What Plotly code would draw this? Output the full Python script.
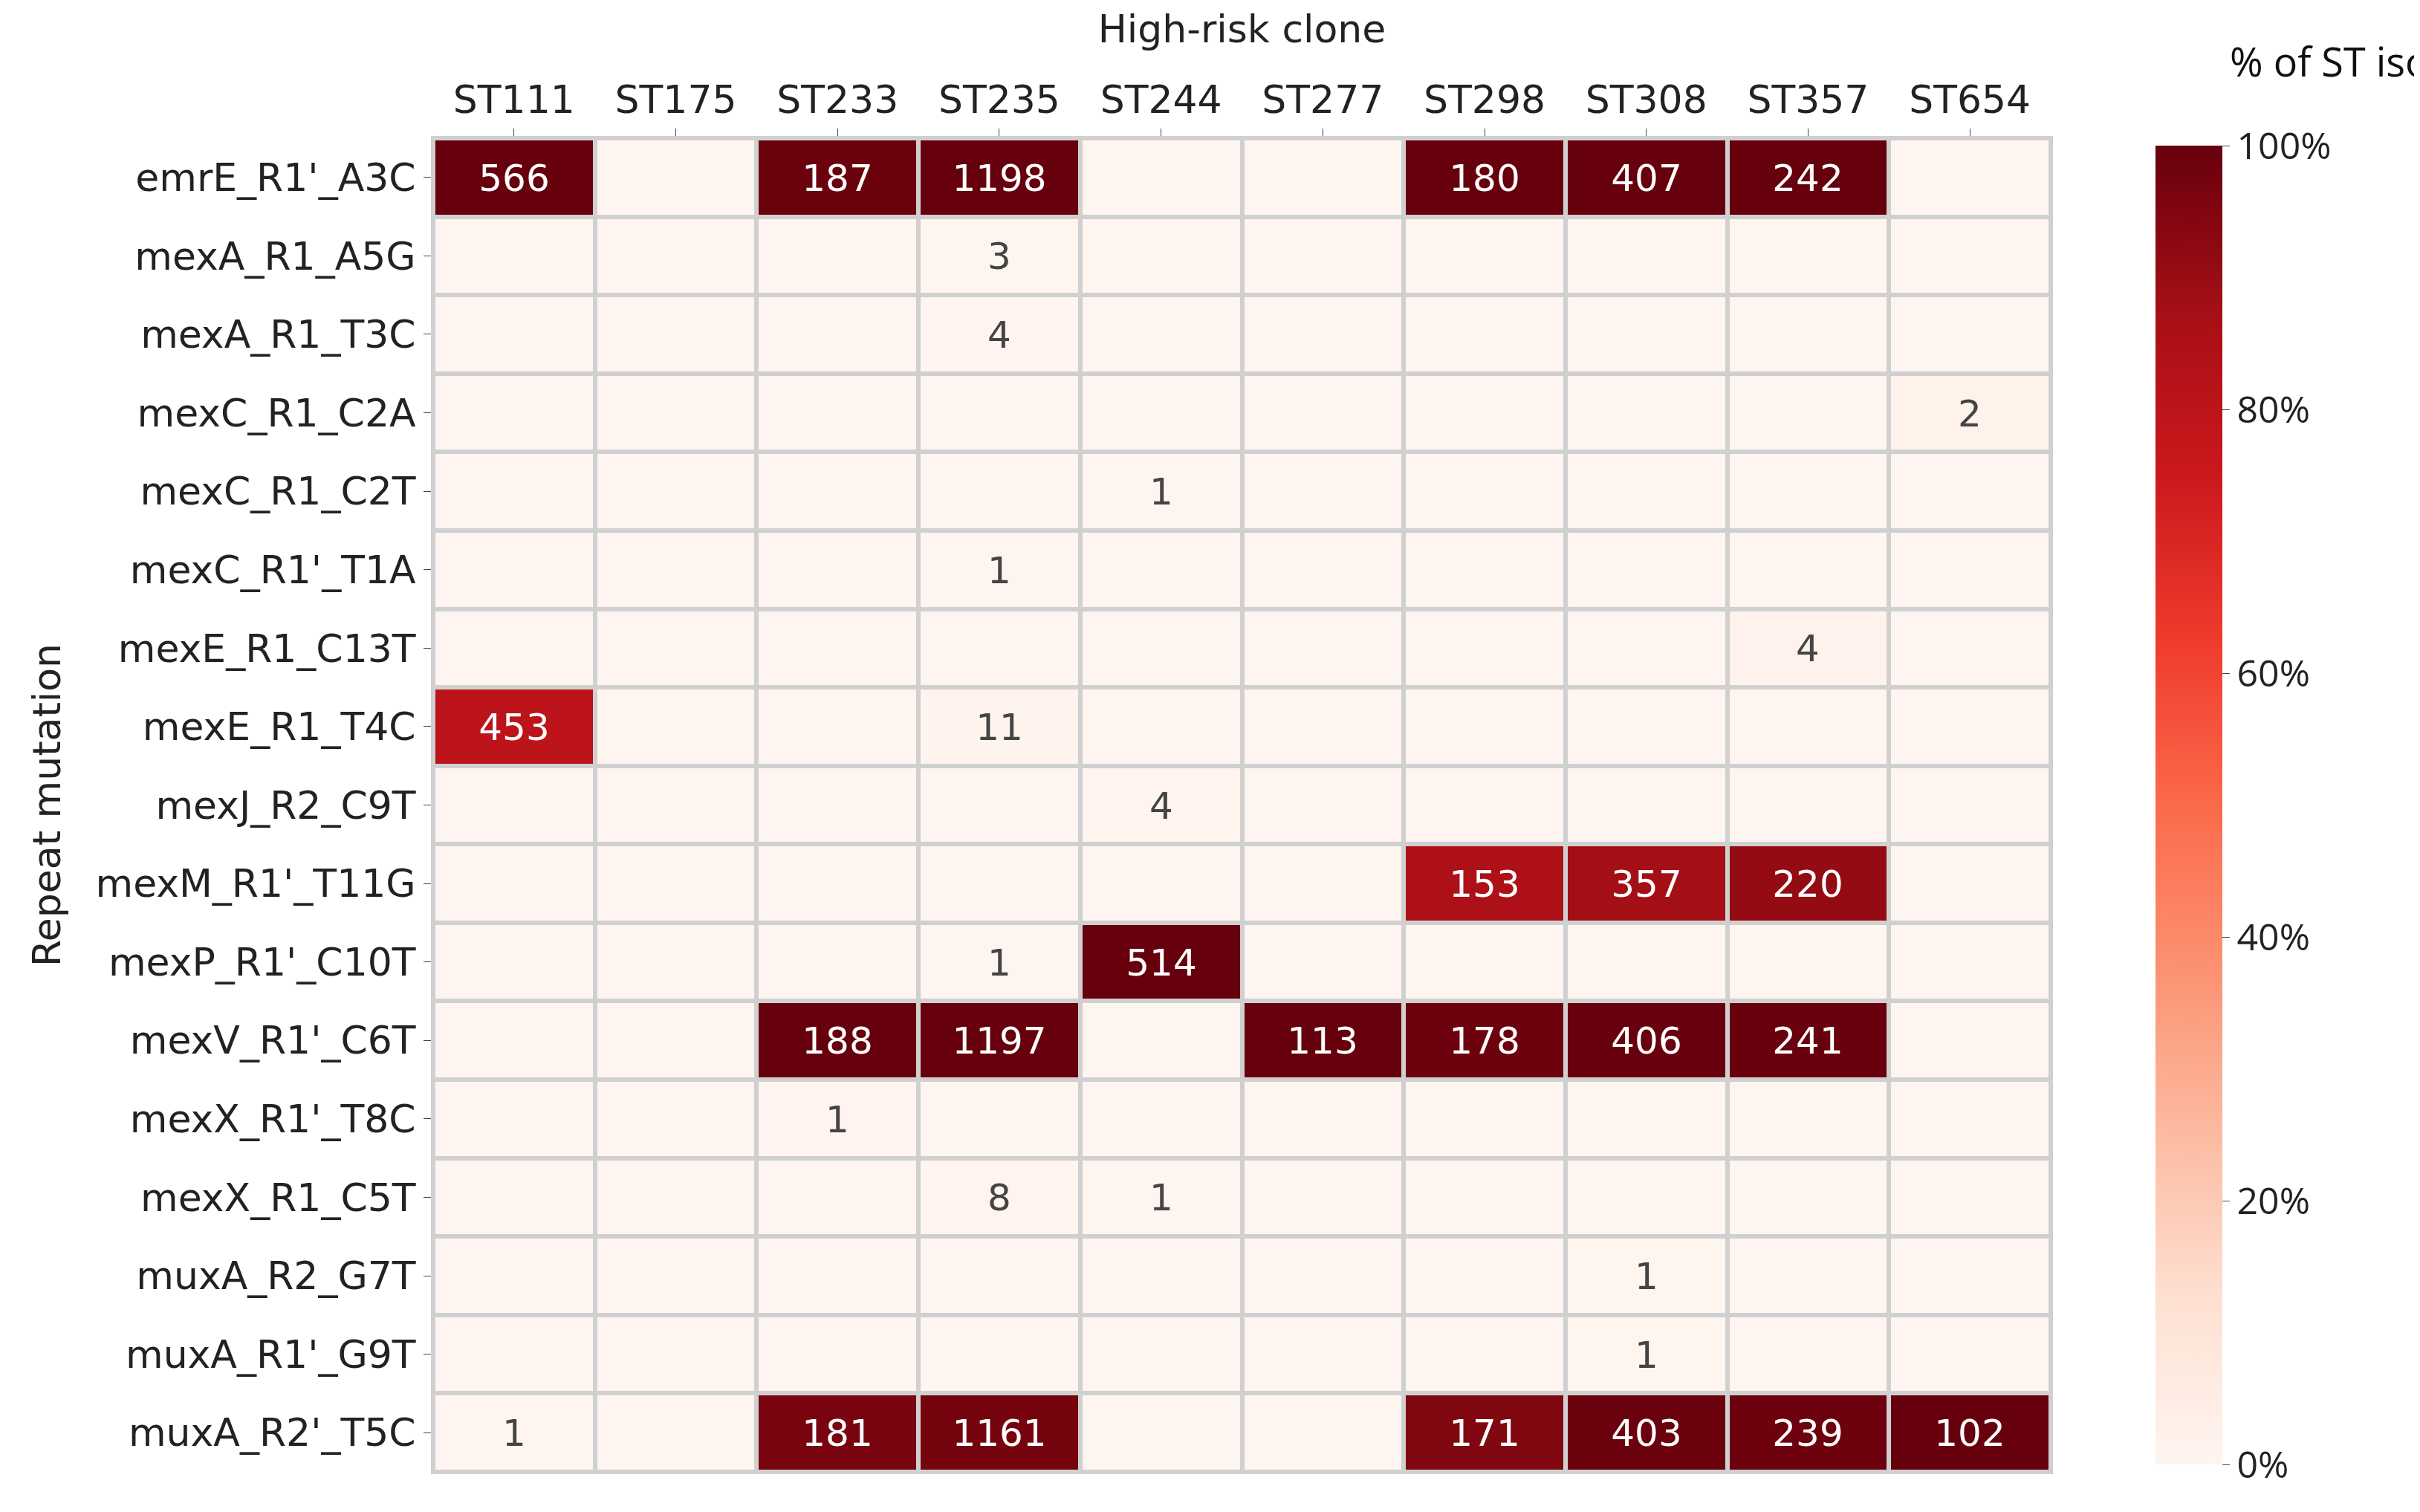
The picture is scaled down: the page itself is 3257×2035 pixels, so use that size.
import plotly.graph_objects as go

clones = ["ST111","ST175","ST233","ST235","ST244","ST277","ST298","ST308","ST357","ST654"]
mutations = ["emrE_R1'_A3C","mexA_R1_A5G","mexA_R1_T3C","mexC_R1_C2A","mexC_R1_C2T","mexC_R1'_T1A",
             "mexE_R1_C13T","mexE_R1_T4C","mexJ_R2_C9T","mexM_R1'_T11G","mexP_R1'_C10T","mexV_R1'_C6T",
             "mexX_R1'_T8C","mexX_R1_C5T","muxA_R2_G7T","muxA_R1'_G9T","muxA_R2'_T5C"]
# isolates per ST (estimated)
totals = [566, 100, 188, 1198, 514, 113, 180, 407, 242, 102]
counts = [
 [566,0,187,1198,0,0,180,407,242,0],
 [0,0,0,3,0,0,0,0,0,0],
 [0,0,0,4,0,0,0,0,0,0],
 [0,0,0,0,0,0,0,0,0,2],
 [0,0,0,0,1,0,0,0,0,0],
 [0,0,0,1,0,0,0,0,0,0],
 [0,0,0,0,0,0,0,0,4,0],
 [453,0,0,11,0,0,0,0,0,0],
 [0,0,0,0,4,0,0,0,0,0],
 [0,0,0,0,0,0,153,357,220,0],
 [0,0,0,1,514,0,0,0,0,0],
 [0,0,188,1197,0,113,178,406,241,0],
 [0,0,1,0,0,0,0,0,0,0],
 [0,0,0,8,1,0,0,0,0,0],
 [0,0,0,0,0,0,0,1,0,0],
 [0,0,0,0,0,0,0,1,0,0],
 [1,0,181,1161,0,0,171,403,239,102],
]
pct = [[100*c/t for c, t in zip(row, totals)] for row in counts]
text = [[str(c) if c else "" for c in row] for row in counts]

reds = ["#fff5f0","#fee0d2","#fcbba1","#fc9272","#fb6a4a","#ef3b2c","#cb181d","#a50f15","#67000d"]
cs = [[i/8, c] for i, c in enumerate(reds)]

fig = go.Figure(go.Heatmap(
    z=pct, x=clones, y=mutations, text=text, texttemplate="%{text}",
    textfont=dict(size=50, family="DejaVu Sans"),
    colorscale=cs, zmin=0, zmax=100, xgap=6, ygap=6,
    colorbar=dict(
        tickvals=[0,20,40,60,80,100], ticktext=["0%","20%","40%","60%","80%","100%"],
        tickfont=dict(size=50, family="Open Sans"), ticks="outside", ticklen=10,
        thickness=90, len=1.0, lenmode="fraction", x=1.06, xanchor="left", y=0, yanchor="bottom",
        outlinewidth=0),
))
fig.update_layout(
    width=3257, height=2035, paper_bgcolor="white", plot_bgcolor="#d0d0d0",
    margin=dict(l=575, r=505, t=178, b=62),
    font=dict(family="DejaVu Sans", size=52, color="#222"),
)
fig.add_annotation(text="% of ST isolates", xref="paper", yref="paper", x=1.2, y=1.0,
                   xanchor="center", yanchor="bottom", yshift=65, showarrow=False,
                   font=dict(size=54, family="Open Sans", color="#111"))
fig.update_xaxes(side="top", ticks="outside", ticklen=12, tickfont=dict(size=52),
                 title=dict(text="High-risk clone", font=dict(size=52), standoff=30), showgrid=False)
fig.update_yaxes(autorange="reversed", ticks="outside", ticklen=12, tickfont=dict(size=52),
                 title=dict(text="Repeat mutation", font=dict(size=52), standoff=30), showgrid=False)
fig.add_shape(type="rect", xref="paper", yref="paper", x0=0, x1=1, y0=0, y1=1,
              line=dict(color="#d0d0d0", width=6))
fig.write_html("out.html")
